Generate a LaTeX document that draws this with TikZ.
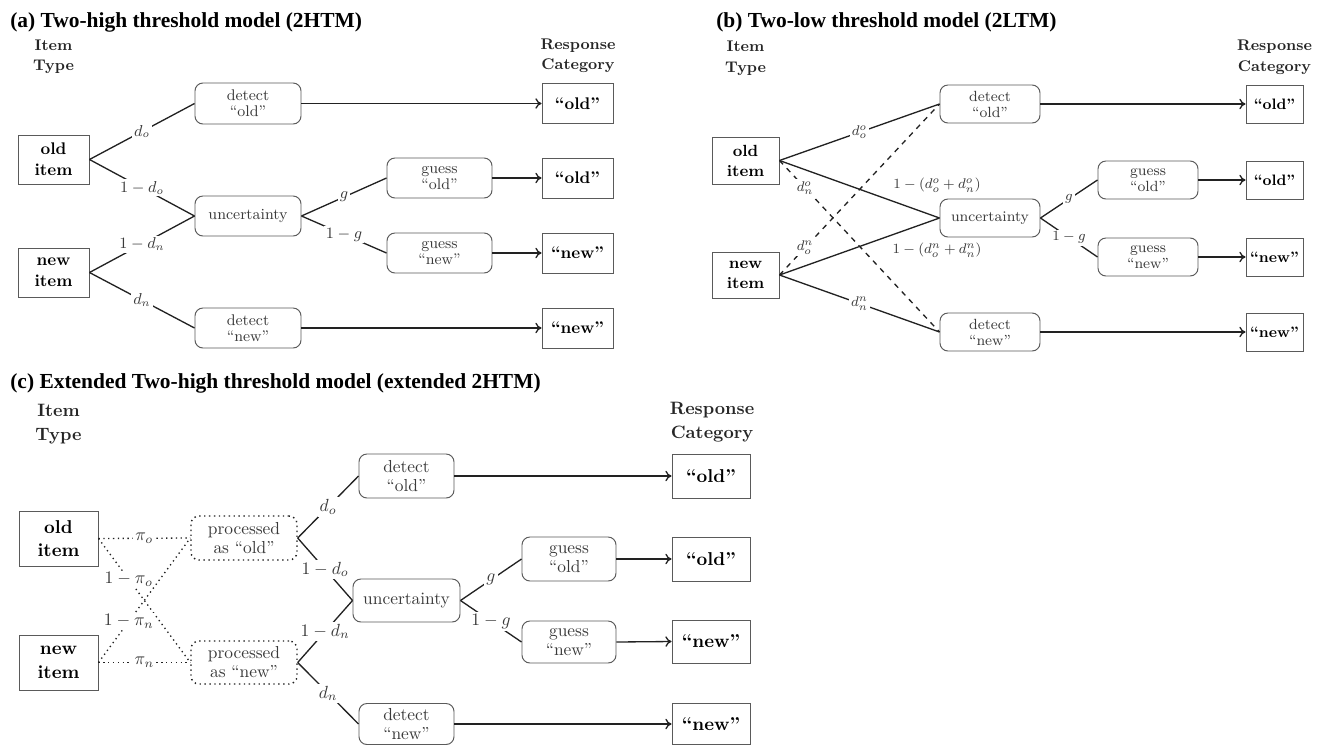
\documentclass[tikz,border=0pt]{standalone}
\usepackage{fontspec}
\newfontfamily\titlefont{Liberation Serif}
\usetikzlibrary{arrows.meta}
\definecolor{linec}{HTML}{222222}
\definecolor{boxc}{HTML}{5A5A5A}
\definecolor{txtc}{HTML}{3A3A3A}
\tikzset{
  sz/.style 2 args={minimum width=#1*0.02cm, minimum height=#2*0.02cm},
  sq/.style={draw=boxc, line width=0.55pt, inner sep=0pt, align=center, text=black},
  rb/.style={draw=boxc, line width=0.55pt, rounded corners=4.5pt, inner sep=0pt, align=center, text=txtc},
  rbdot/.style={draw=linec, line width=0.8pt, dotted, rounded corners=4.5pt, inner sep=0pt, align=center, text=txtc},
  conn/.style={draw=linec, line width=0.75pt},
  arr/.style={draw=linec, line width=0.75pt, -{To[length=3.5pt,width=6pt]}},
  lab/.style={fill=white, inner sep=1.2pt, text=txtc},
  ttl/.style={anchor=base west, inner sep=0pt, font=\titlefont\bfseries\fontsize{12.2}{14}\selectfont},
  hdr/.style={align=center, inner sep=0pt, text=black!85},
}
\begin{document}
\begin{tikzpicture}[x=0.02cm, y=-0.02cm]
\fill[white] (0,0) rectangle (1322,745);
\useasboundingbox (0,0) rectangle (1322,745);

% ---------------- Panel (a) ----------------
\begin{scope}[bf/.style={font=\fontsize{9.6}{11.9}\selectfont\bfseries},
              rf/.style={font=\fontsize{8.8}{9.2}\selectfont},
              hf/.style={font=\fontsize{8.8}{11.3}\selectfont\bfseries}]
\node[ttl] (ta) at (10,27) {(a) Two-high threshold model (2HTM)};
\node[hdr, hf] (ha) at (53.5,57) {Item\\Type};
\node[hdr, hf] (hra) at (578,56) {Response\\Category};
\node[sq, bf, sz={71}{49}] (aoi) at (53.5,159.5) {old\\item};
\node[sq, bf, sz={71}{49}] (ani) at (53.5,272.5) {new\\item};
\node[rb, rf, sz={106}{41}] (adol) at (248,103.5) {detect\\``old''};
\node[rb, rf, sz={106}{40}] (aunc) at (248,216) {uncertainty};
\node[rb, rf, sz={106}{40}] (adnw) at (248,328) {detect\\``new''};
\node[rb, rf, sz={105}{40}] (agol) at (439.5,178) {guess\\``old''};
\node[rb, rf, sz={105}{40}] (agnw) at (439.5,253) {guess\\``new''};
\node[sq, bf, sz={71}{40}] (ar1) at (577.5,103.5) {``old''};
\node[sq, bf, sz={71}{40}] (ar2) at (577.5,178) {``old''};
\node[sq, bf, sz={71}{40}] (ar3) at (577.5,253) {``new''};
\node[sq, bf, sz={71}{40}] (ar4) at (577.5,328) {``new''};
\draw[conn] (aoi.east) -- node[lab, rf] {$d_o$} (adol.west);
\draw[conn] (aoi.east) -- node[lab, rf] {$1-d_o$} (aunc.west);
\draw[conn] (ani.east) -- node[lab, rf] {$1-d_n$} (aunc.west);
\draw[conn] (ani.east) -- node[lab, rf] {$d_n$} (adnw.west);
\draw[conn] (aunc.east) -- node[lab, rf] {$g$} (agol.west);
\draw[conn] (aunc.east) -- node[lab, rf] {$1-g$} (agnw.west);
\draw[arr] (adol.east) -- (ar1.west);
\draw[arr] (agol.east) -- (ar2.west);
\draw[arr] (agnw.east) -- (ar3.west);
\draw[arr] (adnw.east) -- (ar4.west);
\end{scope}

% ---------------- Panel (b) ----------------
\begin{scope}[bf/.style={font=\fontsize{9.2}{11.4}\selectfont\bfseries},
              rbf/.style={font=\fontsize{8.6}{10}\selectfont\bfseries},
              rf/.style={font=\fontsize{8.4}{9.1}\selectfont},
              hf/.style={font=\fontsize{8.8}{11.8}\selectfont\bfseries}]
\node[ttl] (tb) at (716,27) {(b) Two-low threshold model (2LTM)};
\node[hdr, hf] (hb) at (745.5,58) {Item\\Type};
\node[hdr, hf] (hrb) at (1274.5,57) {Response\\Category};
\node[sq, bf, sz={67}{47}] (boi) at (745.5,160.5) {old\\item};
\node[sq, bf, sz={67}{46}] (bni) at (745.5,275) {new\\item};
\node[rb, rf, sz={100}{38}] (bdol) at (990,104) {detect\\``old''};
\node[rb, rf, sz={100}{38}] (bunc) at (990,218) {uncertainty};
\node[rb, rf, sz={100}{38}] (bdnw) at (990,332) {detect\\``new''};
\node[rb, rf, sz={100}{38}] (bgol) at (1148,180) {guess\\``old''};
\node[rb, rf, sz={100}{38}] (bgnw) at (1148,257) {guess\\``new''};
\node[sq, rbf, sz={57}{38}] (br1) at (1274.5,104) {``old''};
\node[sq, rbf, sz={57}{38}] (br2) at (1274.5,180) {``old''};
\node[sq, rbf, sz={57}{38}] (br3) at (1274.5,257) {``new''};
\node[sq, rbf, sz={57}{38}] (br4) at (1274.5,332) {``new''};
\draw[conn] (boi.east) -- (bunc.west);
\draw[conn] (bni.east) -- (bunc.west);
\draw[conn, dashed] (boi.east) -- node[lab, rf, pos=0.16] {$d_n^o$} (bdnw.west);
\draw[conn, dashed] (bni.east) -- node[lab, rf, pos=0.16] {$d_o^n$} (bdol.west);
\draw[conn] (boi.east) -- node[lab, rf] {$d_o^o$} (bdol.west);
\draw[conn] (bni.east) -- node[lab, rf] {$d_n^n$} (bdnw.west);
\node[rf, text=txtc, inner sep=0pt] (bl1) at (937,185) {$1-(d_o^o+d_n^o)$};
\node[rf, text=txtc, inner sep=0pt] (bl2) at (937,250) {$1-(d_o^n+d_n^n)$};
\draw[conn] (bunc.east) -- node[lab, rf] {$g$} (bgol.west);
\draw[conn] (bunc.east) -- node[lab, rf] {$1-g$} (bgnw.west);
\draw[arr] (bdol.east) -- (br1.west);
\draw[arr] (bgol.east) -- (br2.west);
\draw[arr] (bgnw.east) -- (br3.west);
\draw[arr] (bdnw.east) -- (br4.west);
\end{scope}

% ---------------- Panel (c) ----------------
\begin{scope}[bf/.style={font=\fontsize{10.6}{13.4}\selectfont\bfseries},
              rf/.style={font=\fontsize{9.9}{10.8}\selectfont},
              hf/.style={font=\fontsize{10.2}{13.4}\selectfont\bfseries}]
\node[ttl] (tc) at (10,388) {(c) Extended Two-high threshold model (extended 2HTM)};
\node[hdr, hf] (hc) at (58.5,424) {Item\\Type};
\node[hdr, hf] (hrc) at (712,422) {Response\\Category};
\node[sq, bf, sz={79}{55}] (coi) at (58.5,538.5) {old\\item};
\node[sq, bf, sz={79}{55}] (cni) at (58.5,662.5) {new\\item};
\node[rbdot, rf, sz={106}{44}] (cpo) at (244,538) {processed\\as ``old''};
\node[rbdot, rf, sz={106}{43}] (cpn) at (244,662.5) {processed\\as ``new''};
\node[rb, rf, sz={95}{44}] (cdol) at (406.5,476) {detect\\``old''};
\node[rb, rf, sz={107}{43}] (cunc) at (406.5,600.5) {uncertainty};
\node[rb, rf, sz={95}{41}] (cdnw) at (406.5,724) {detect\\``new''};
\node[rb, rf, sz={94}{44}] (cgol) at (569,559) {guess\\``old''};
\node[rb, rf, sz={94}{42}] (cgnw) at (569,642) {guess\\``new''};
\node[sq, bf, sz={78}{44}] (cr1) at (711,476) {``old''};
\node[sq, bf, sz={78}{44}] (cr2) at (711,559) {``old''};
\node[sq, bf, sz={78}{43}] (cr3) at (711,641.5) {``new''};
\node[sq, bf, sz={78}{41}] (cr4) at (711,724) {``new''};
\draw[conn, dotted] (coi.east) -- node[lab, rf] {$\pi_o$} (cpo.west);
\draw[conn, dotted] (cni.east) -- node[lab, rf] {$\pi_n$} (cpn.west);
\draw[conn, dotted] (coi.east) -- node[lab, rf, pos=0.33, inner sep=0.8pt] {$1-\pi_o$} (cpn.west);
\draw[conn, dotted] (cni.east) -- node[lab, rf, pos=0.33, inner sep=0.8pt] {$1-\pi_n$} (cpo.west);
\draw[conn] (cpo.east) -- node[lab, rf] {$d_o$} (cdol.west);
\draw[conn] (cpo.east) -- node[lab, rf] {$1-d_o$} (cunc.west);
\draw[conn] (cpn.east) -- node[lab, rf] {$1-d_n$} (cunc.west);
\draw[conn] (cpn.east) -- node[lab, rf] {$d_n$} (cdnw.west);
\draw[conn] (cunc.east) -- node[lab, rf] {$g$} (cgol.west);
\draw[conn] (cunc.east) -- node[lab, rf] {$1-g$} (cgnw.west);
\draw[arr] (cdol.east) -- (cr1.west);
\draw[arr] (cgol.east) -- (cr2.west);
\draw[arr] (cgnw.east) -- (cr3.west);
\draw[arr] (cdnw.east) -- (cr4.west);
\end{scope}
\end{tikzpicture}
\end{document}
